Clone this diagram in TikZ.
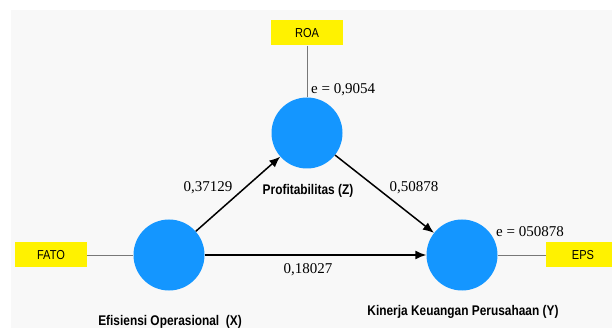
\documentclass[tikz,border=0pt]{standalone}
\usepackage{fontspec}
\setmainfont{Liberation Serif}
\setsansfont{Liberation Sans}
\newfontfamily\namefont[FakeStretch=0.85]{Liberation Sans}
\usetikzlibrary{arrows.meta}
\definecolor{latentblue}{RGB}{20,150,255}
\definecolor{panelgray}{RGB}{248,248,248}
\definecolor{loadgray}{RGB}{120,120,120}

\begin{document}
\begin{tikzpicture}[x=1pt,y=-1pt,
    latent/.style={circle,fill=latentblue,minimum size=71pt,inner sep=0pt},
    indicator/.style={fill=yellow,minimum width=72pt,minimum height=25pt,inner sep=0pt,
      font=\namefont\fontsize{13}{15}\selectfont},
    coef/.style={font=\fontsize{15}{18}\selectfont,inner sep=0pt},
    varname/.style={font=\namefont\bfseries\fontsize{14}{16}\selectfont,inner sep=0pt}]
   \useasboundingbox (0,0) rectangle (612,328);
   \fill[white] (0,0) rectangle (612,328);
   \fill[panelgray] (11,10) rectangle (612,328);
   \begin{scope}
    \clip (0,0) rectangle (612,328);
    \node[latent] (x) at (169,255) {};
    \node[latent] (z) at (307,133) {};
    \node[latent] (y) at (462,255) {};
    \node[indicator] (roa) at (307,33) {ROA};
    \node[indicator] (fato) at (51,255) {FATO};
    \node[indicator,minimum width=74pt] (eps) at (583,255) {EPS};
   \end{scope}
   \begin{scope}[loadgray,line width=0.8pt]
    \draw (roa) -- (z);
    \draw (fato) -- (x);
    \draw (y) -- (eps);
   \end{scope}
   \begin{scope}[line width=1.5pt,-{Latex[length=11pt,width=9pt]}]
    \draw (x) -- (z);
    \draw (z) -- (y);
    \draw (x) -- (y);
   \end{scope}
   \node[coef,anchor=west] (ez) at (311,90) {e = 0,9054};
   \node[coef] (ey) at (530,232) {e = 050878};
   \node[coef] (pxz) at (208,188) {0,37129};
   \node[coef] (pzy) at (414,188) {0,50878};
   \node[coef] (pxy) at (308,270) {0,18027};
   \node[varname] (lz) at (308,191) {Profitabilitas (Z)};
   \node[varname] (lx) at (170,322) {Efisiensi Operasional\ \ (X)};
   \node[varname] (ly) at (463,312) {Kinerja Keuangan Perusahaan (Y)};
\end{tikzpicture}
\end{document}
